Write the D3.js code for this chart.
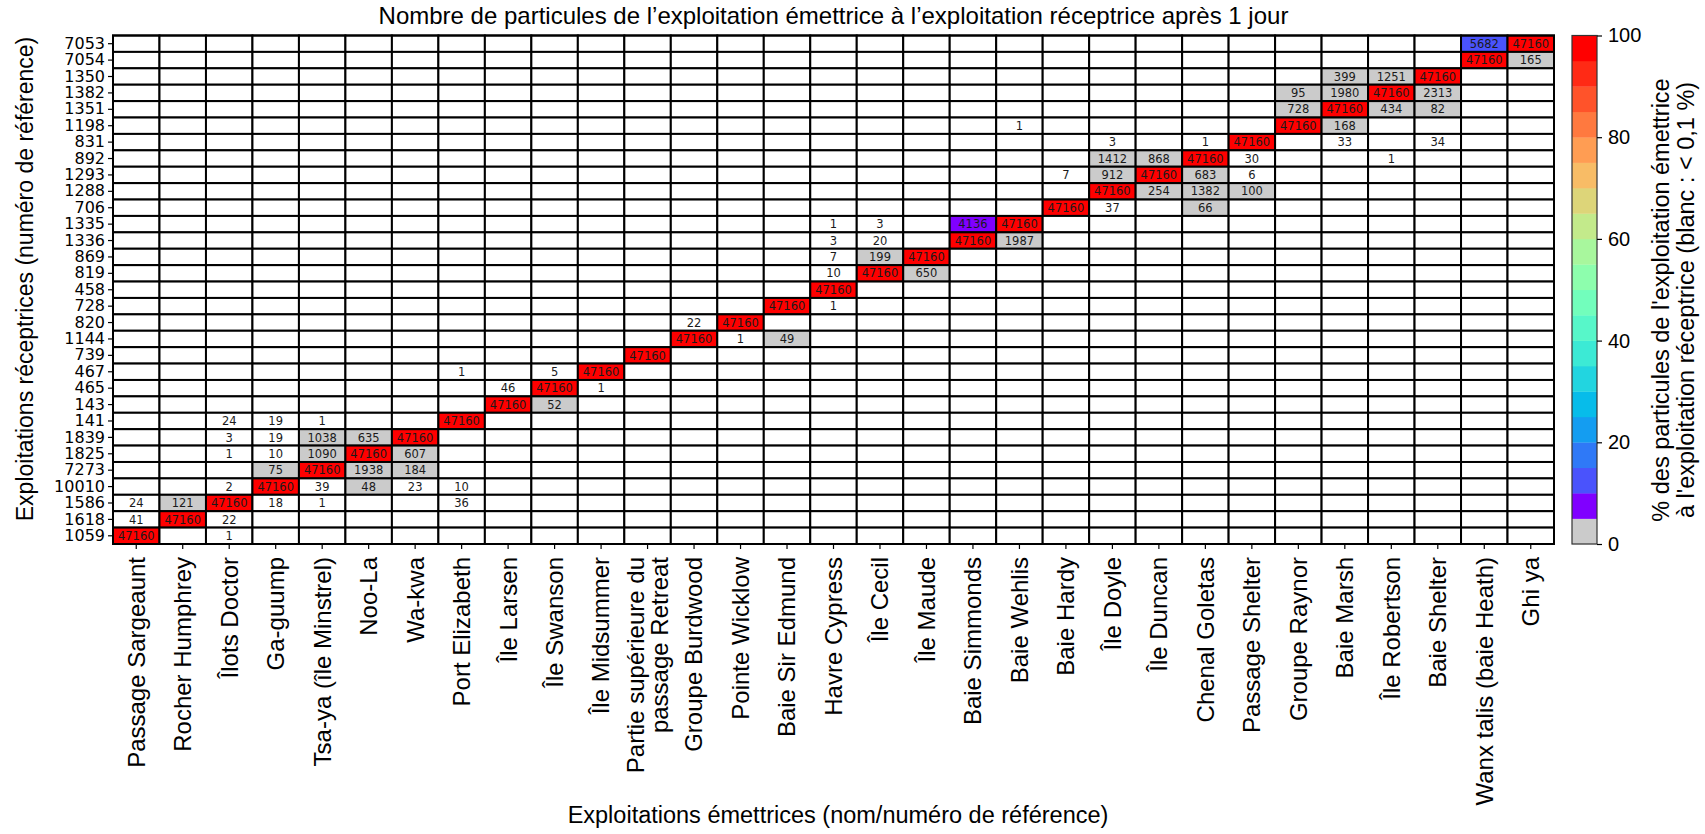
<!DOCTYPE html>
<html>
<head>
<meta charset="utf-8">
<script src="https://cdn.jsdelivr.net/npm/d3@7"></script>
<style>
  body { margin: 0; background: #ffffff; }
  svg { display: block; }
</style>
</head>
<body>
<svg id="chart" width="1705" height="834"></svg>
<script>
// Emitting farms (columns, left to right)
const emitters = [
  "Passage Sargeaunt", "Rocher Humphrey", "Îlots Doctor", "Ga-guump",
  "Tsa-ya (île Minstrel)", "Noo-La", "Wa-kwa", "Port Elizabeth",
  "Île Larsen", "Île Swanson", "Île Midsummer",
  "Partie supérieure du\npassage Retreat", "Groupe Burdwood", "Pointe Wicklow",
  "Baie Sir Edmund", "Havre Cypress", "Île Cecil", "Île Maude",
  "Baie Simmonds", "Baie Wehlis", "Baie Hardy", "Île Doyle", "Île Duncan",
  "Chenal Goletas", "Passage Shelter", "Groupe Raynor", "Baie Marsh",
  "Île Robertson", "Baie Shelter", "Wanx talis (baie Heath)", "Ghi ya"
];

// Receiving farms (rows, top to bottom), by reference number
const receivers = [
  "7053", "7054", "1350", "1382", "1351", "1198", "831", "892", "1293",
  "1288", "706", "1335", "1336", "869", "819", "458", "728", "820", "1144",
  "739", "467", "465", "143", "141", "1839", "1825", "7273", "10010",
  "1586", "1618", "1059"
];

// Particles released per emitting farm
const releasedPerFarm = 47160;

// [receiver, emitter index, particles received after 1 day]
const flows = [
  ["7053", 29, 5682], ["7053", 30, 47160],
  ["7054", 29, 47160], ["7054", 30, 165],
  ["1350", 26, 399], ["1350", 27, 1251], ["1350", 28, 47160],
  ["1382", 25, 95], ["1382", 26, 1980], ["1382", 27, 47160], ["1382", 28, 2313],
  ["1351", 25, 728], ["1351", 26, 47160], ["1351", 27, 434], ["1351", 28, 82],
  ["1198", 19, 1], ["1198", 25, 47160], ["1198", 26, 168],
  ["831", 21, 3], ["831", 23, 1], ["831", 24, 47160], ["831", 26, 33], ["831", 28, 34],
  ["892", 21, 1412], ["892", 22, 868], ["892", 23, 47160], ["892", 24, 30], ["892", 27, 1],
  ["1293", 20, 7], ["1293", 21, 912], ["1293", 22, 47160], ["1293", 23, 683], ["1293", 24, 6],
  ["1288", 21, 47160], ["1288", 22, 254], ["1288", 23, 1382], ["1288", 24, 100],
  ["706", 20, 47160], ["706", 21, 37], ["706", 23, 66],
  ["1335", 15, 1], ["1335", 16, 3], ["1335", 18, 4136], ["1335", 19, 47160],
  ["1336", 15, 3], ["1336", 16, 20], ["1336", 18, 47160], ["1336", 19, 1987],
  ["869", 15, 7], ["869", 16, 199], ["869", 17, 47160],
  ["819", 15, 10], ["819", 16, 47160], ["819", 17, 650],
  ["458", 15, 47160],
  ["728", 14, 47160], ["728", 15, 1],
  ["820", 12, 22], ["820", 13, 47160],
  ["1144", 12, 47160], ["1144", 13, 1], ["1144", 14, 49],
  ["739", 11, 47160],
  ["467", 7, 1], ["467", 9, 5], ["467", 10, 47160],
  ["465", 8, 46], ["465", 9, 47160], ["465", 10, 1],
  ["143", 8, 47160], ["143", 9, 52],
  ["141", 2, 24], ["141", 3, 19], ["141", 4, 1], ["141", 7, 47160],
  ["1839", 2, 3], ["1839", 3, 19], ["1839", 4, 1038], ["1839", 5, 635], ["1839", 6, 47160],
  ["1825", 2, 1], ["1825", 3, 10], ["1825", 4, 1090], ["1825", 5, 47160], ["1825", 6, 607],
  ["7273", 3, 75], ["7273", 4, 47160], ["7273", 5, 1938], ["7273", 6, 184],
  ["10010", 2, 2], ["10010", 3, 47160], ["10010", 4, 39], ["10010", 5, 48], ["10010", 6, 23], ["10010", 7, 10],
  ["1586", 0, 24], ["1586", 1, 121], ["1586", 2, 47160], ["1586", 3, 18], ["1586", 4, 1], ["1586", 7, 36],
  ["1618", 0, 41], ["1618", 1, 47160], ["1618", 2, 22],
  ["1059", 0, 47160], ["1059", 2, 1]
];

// Percentage class limits of the colour scale
const classBreaks = [0.1, 5, 10, 15, 20, 25, 30, 35, 40, 45, 50, 55, 60, 65, 70, 75, 80, 85, 90, 95];
const colorbarTicks = [0, 20, 40, 60, 80, 100];

const titleText = "Nombre de particules de l\u2019exploitation émettrice à l\u2019exploitation réceptrice après 1 jour";
const xLabelText = "Exploitations émettrices (nom/numéro de référence)";
const yLabelText = "Exploitations réceptrices (numéro de référence)";
const cbarLabelLines = [
  "% des particules de l'exploitation émettrice",
  "à l'exploitation réceptrice (blanc : < 0,1 %)"
];

// ---------------------------------------------------------------
const SANS = "'Liberation Sans', Arial, Helvetica, sans-serif";
const DEJAVU = "'DejaVu Sans', Verdana, sans-serif";

// Rainbow colour map (same definition as matplotlib's "rainbow")
function rainbow(t) {
  const r = Math.min(1, Math.abs(2 * t - 0.5));
  const g = Math.sin(Math.PI * t);
  const b = Math.cos(Math.PI * t / 2);
  return d3.rgb(r * 255, g * 255, b * 255).formatHex();
}
// 0-5 % in grey, 5-10 % at the violet end, then the rainbow up to red
const binColors = ["#cbcbcb", rainbow(0)].concat(d3.range(2, 20).map(i => rainbow(i / 19)));
const color = d3.scaleThreshold().domain(classBreaks).range(["#ffffff"].concat(binColors));

const svg = d3.select("#chart");
const plot = { left: 113, right: 1554, top: 35.5, bottom: 544 };

const x = d3.scaleBand().domain(d3.range(emitters.length)).range([plot.left, plot.right]);
const y = d3.scaleBand().domain(receivers).range([plot.top, plot.bottom]);

const lookup = new Map(flows.map(([r, e, n]) => [r + "|" + e, n]));
const cells = [];
receivers.forEach(r => emitters.forEach((_, e) => {
  cells.push({ r, e, n: lookup.get(r + "|" + e) || 0 });
}));

// Heat-map cells
svg.append("g").selectAll("rect").data(cells).join("rect")
  .attr("x", d => x(d.e))
  .attr("y", d => y(d.r))
  .attr("width", x.bandwidth())
  .attr("height", y.bandwidth())
  .attr("fill", d => d.n > 0 ? color(d.n / releasedPerFarm * 100) : "#ffffff")
  .attr("stroke", "#000")
  .attr("stroke-width", 2);

// Particle counts
svg.append("g").selectAll("text").data(cells.filter(d => d.n > 0)).join("text")
  .attr("x", d => x(d.e) + x.bandwidth() / 2)
  .attr("y", d => y(d.r) + y.bandwidth() / 2)
  .attr("dy", "0.36em")
  .attr("text-anchor", "middle")
  .attr("font-family", DEJAVU)
  .attr("font-size", 11.5)
  .attr("fill", "#1a1a1a")
  .text(d => d.n);

// Outer frame
svg.append("rect")
  .attr("x", plot.left).attr("y", plot.top)
  .attr("width", plot.right - plot.left).attr("height", plot.bottom - plot.top)
  .attr("fill", "none").attr("stroke", "#000").attr("stroke-width", 2);

// Y axis
const gy = svg.append("g")
  .attr("transform", `translate(${plot.left},0)`)
  .call(d3.axisLeft(y).tickSize(5).tickPadding(3));
gy.select(".domain").remove();
gy.selectAll(".tick line").attr("stroke", "#000").attr("stroke-width", 1.2);
gy.selectAll(".tick text")
  .attr("font-family", DEJAVU).attr("font-size", 16).attr("fill", "#000");

// X axis with rotated, possibly multi-line labels
const gx = svg.append("g")
  .attr("transform", `translate(0,${plot.bottom})`)
  .call(d3.axisBottom(x).tickSize(5).tickFormat(() => ""));
gx.select(".domain").remove();
gx.selectAll(".tick line").attr("stroke", "#000").attr("stroke-width", 1.2);
gx.selectAll(".tick text").each(function (i) {
  const lines = emitters[i].split("\n");
  const t = d3.select(this)
    .attr("transform", "rotate(-90)")
    .attr("text-anchor", "end")
    .attr("y", 0)
    .attr("dy", null)
    .attr("font-family", SANS).attr("font-size", 24).attr("fill", "#000");
  const lh = 1.0;
  lines.forEach((ln, k) => {
    t.append("tspan")
      .attr("x", -13)
      .attr("dy", (k === 0 ? 0.35 - (lines.length - 1) * lh / 2 : lh) + "em")
      .text(ln);
  });
});

// Colour bar
const cb = d3.scaleLinear().domain([0, 100]).range([plot.bottom, plot.top]);
const cbX = 1572, cbW = 25;
const cbBins = binColors.map((c, i) => ({ lo: i * 5, hi: i * 5 + 5, c }));
svg.append("g").selectAll("rect").data(cbBins).join("rect")
  .attr("x", cbX)
  .attr("y", d => cb(d.hi))
  .attr("width", cbW)
  .attr("height", d => cb(d.lo) - cb(d.hi) + 0.3)
  .attr("fill", d => d.c);
svg.append("rect")
  .attr("x", cbX).attr("y", plot.top)
  .attr("width", cbW).attr("height", plot.bottom - plot.top)
  .attr("fill", "none").attr("stroke", "#333").attr("stroke-width", 1.2);
const gc = svg.append("g")
  .attr("transform", `translate(${cbX + cbW},0)`)
  .call(d3.axisRight(cb).tickValues(colorbarTicks).tickSize(5).tickPadding(6));
gc.select(".domain").remove();
gc.selectAll(".tick line").attr("stroke", "#000").attr("stroke-width", 1.2);
gc.selectAll(".tick text")
  .attr("font-family", SANS).attr("font-size", 20).attr("fill", "#000");

// Colour bar label (two lines)
const cbLabel = svg.append("text")
  .attr("transform", `translate(1669,300) rotate(-90)`)
  .attr("text-anchor", "middle")
  .attr("font-family", SANS).attr("font-size", 23.5).attr("fill", "#000");
cbarLabelLines.forEach((ln, k) => {
  cbLabel.append("tspan").attr("x", 0).attr("dy", k === 0 ? 0 : "1.06em").text(ln);
});

// Title and axis titles
svg.append("text")
  .attr("x", (plot.left + plot.right) / 2).attr("y", 24)
  .attr("text-anchor", "middle")
  .attr("font-family", SANS).attr("font-size", 24).attr("fill", "#000")
  .text(titleText);

svg.append("text")
  .attr("x", 838).attr("y", 823)
  .attr("text-anchor", "middle")
  .attr("font-family", SANS).attr("font-size", 23.5).attr("fill", "#000")
  .text(xLabelText);

svg.append("text")
  .attr("transform", "translate(33,279) rotate(-90)")
  .attr("text-anchor", "middle")
  .attr("font-family", SANS).attr("font-size", 23).attr("fill", "#000")
  .text(yLabelText);
</script>
</body>
</html>
